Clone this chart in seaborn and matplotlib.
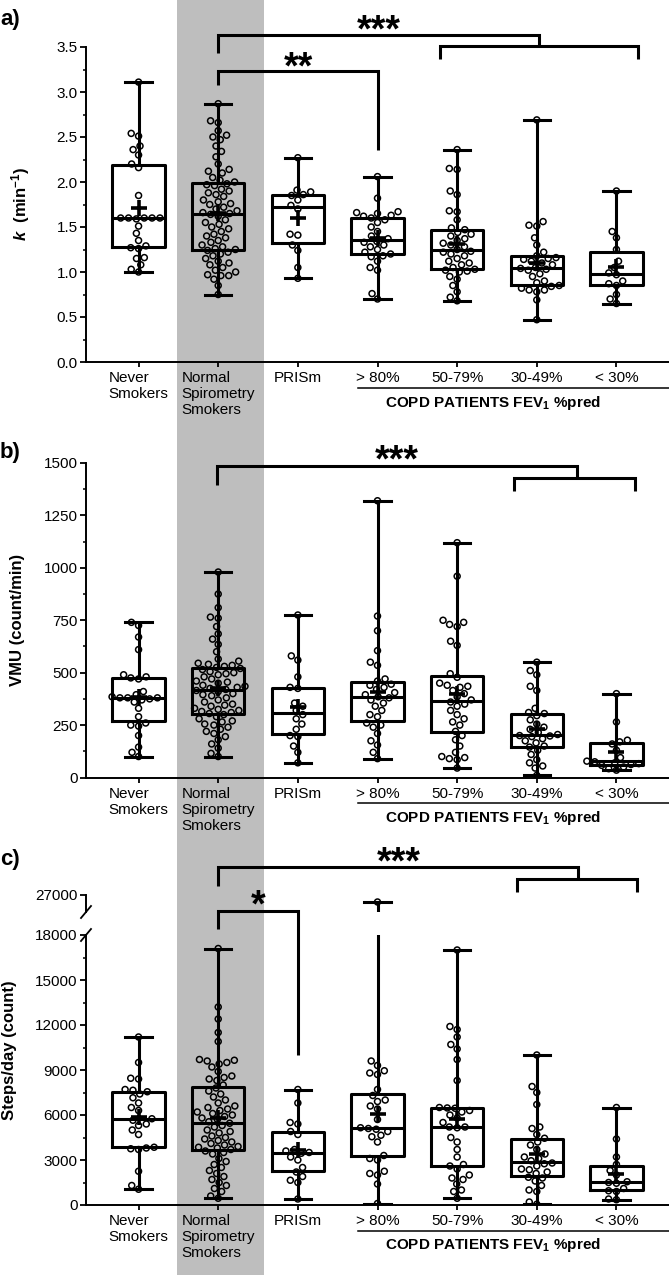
import numpy as np
import pandas as pd
import matplotlib
matplotlib.use("Agg")
import matplotlib.pyplot as plt
import seaborn as sns
from matplotlib.transforms import blended_transform_factory as btf
from matplotlib.patches import Rectangle
from matplotlib.lines import Line2D
from matplotlib.ticker import MultipleLocator, FormatStrFormatter, FixedLocator

plt.rcParams['font.family'] = ['Liberation Sans', 'DejaVu Sans']
plt.rcParams['mathtext.fontset'] = 'custom'
plt.rcParams['mathtext.rm'] = 'Liberation Sans:bold'
plt.rcParams['mathtext.bf'] = 'Liberation Sans:bold'
plt.rcParams['mathtext.it'] = 'Liberation Sans:bold:italic'

groups = ["Never", "Normal", "PRISm", ">80", "50-79", "30-49", "<30"]
tick_labels = ["Never\nSmokers", "Normal\nSpirometry\nSmokers", "PRISm",
               "> 80%", "50-79%", "30-49%", "< 30%"]

# ---------- panel a: k (min-1) ----------
k_never = [3.11, 2.54, 2.51, 2.40, 2.36, 2.30, 2.20, 2.16, 1.85, 1.60, 1.60, 1.60, 1.60,
           1.60, 1.59, 1.51, 1.43, 1.35, 1.29, 1.27, 1.26, 1.16, 1.15, 1.08, 1.03, 1.00]
k_normal = [2.87, 2.68, 2.66, 2.57, 2.52, 2.50, 2.47, 2.40, 2.34, 2.28, 2.20, 2.14, 2.12, 2.10,
            2.05, 2.02, 2.00,
            1.98, 1.97, 1.96, 1.92, 1.90, 1.88, 1.86, 1.84, 1.80, 1.78, 1.76, 1.75, 1.72, 1.70,
            1.68, 1.66, 1.65,
            1.64, 1.62, 1.58, 1.55, 1.53, 1.50, 1.48, 1.45, 1.42, 1.40, 1.38, 1.35, 1.33, 1.30,
            1.28, 1.26, 1.25,
            1.24, 1.22, 1.20, 1.18, 1.15, 1.12, 1.10, 1.08, 1.05, 1.02, 1.00, 0.97, 0.96, 0.96,
            0.92, 0.85, 0.75]
k_prism = [2.27, 1.91, 1.89, 1.86, 1.85, 1.80, 1.74, 1.70, 1.42, 1.41, 1.30, 1.24, 1.05, 0.93]
k_gt80 = [2.06, 1.82, 1.67, 1.66, 1.65, 1.63, 1.62, 1.60, 1.58, 1.55, 1.50, 1.45, 1.40, 1.37,
          1.34, 1.33, 1.30, 1.28, 1.25, 1.22, 1.20, 1.18, 1.17, 1.12, 1.05, 1.02, 0.76, 0.70]
k_50 = [2.36, 2.15, 2.14, 1.90, 1.86, 1.68, 1.67, 1.58, 1.49, 1.47, 1.44, 1.42, 1.40, 1.37,
        1.35, 1.32, 1.30, 1.28, 1.25, 1.23, 1.22, 1.20, 1.18, 1.15, 1.12, 1.10, 1.08, 1.05,
        1.03, 1.02, 1.01, 1.00, 0.95, 0.92, 0.85, 0.78, 0.72, 0.68]
k_30 = [2.69, 1.56, 1.52, 1.51, 1.38, 1.30, 1.22, 1.18, 1.16, 1.15, 1.14, 1.12, 1.10, 1.08,
        1.05, 1.04, 1.03, 1.02, 0.98, 0.95, 0.90, 0.88, 0.85, 0.84, 0.82, 0.80, 0.80, 0.78,
        0.69, 0.47]
k_lt30 = [1.90, 1.45, 1.38, 1.25, 1.12, 1.05, 0.99, 0.97, 0.90, 0.87, 0.85, 0.75, 0.70, 0.65]

# ---------- panel b: VMU (count/min) ----------
v_never = [740, 725, 670, 610, 490, 480, 475, 470, 410, 395, 385, 380, 380, 380, 375, 370,
           360, 330, 290, 260, 250, 245, 200, 145, 120, 100]
v_normal = [980, 875, 810, 765, 760, 720, 685, 660, 635, 600, 565, 555, 545, 540, 535, 530,
            525, 520, 515, 505, 500, 495, 490, 480, 470, 460, 455, 450, 440, 435, 430, 425, 420,
            415, 410, 400, 395, 390, 380, 370, 360, 350, 345, 340, 330, 325, 320, 315, 310, 305,
            300, 290, 280, 270, 265, 255, 250, 240, 230, 220, 210, 195, 180, 160, 140, 115, 100]
v_prism = [775, 580, 560, 480, 430, 425, 355, 340, 320, 300, 280, 255, 230, 200, 195, 150, 120, 70]
v_gt80 = [1320, 770, 700, 605, 550, 535, 470, 460, 445, 440, 430, 420, 405, 395, 385, 380, 370,
          355, 340, 320, 300, 290, 260, 250, 240, 210, 175, 155, 120, 90]
v_50 = [1120, 960, 750, 740, 730, 720, 650, 630, 495, 478, 450, 440, 435, 430, 415, 400, 385,
        370, 360, 350, 340, 320, 300, 280, 265, 250, 220, 200, 180, 150, 120, 100, 95, 90, 85, 45]
v_30 = [550, 510, 490, 435, 415, 330, 310, 305, 295, 275, 255, 240, 230, 215, 205, 200, 198,
        195, 185, 175, 165, 150, 145, 130, 110, 85, 70, 55, 45, 10]
v_lt30 = [400, 265, 178, 170, 160, 130, 95, 78, 75, 70, 66, 62, 58, 50, 42, 35]

# ---------- panel c: Steps/day (count) ----------
s_never = [11200, 9500, 8450, 8400, 7700, 7650, 7550, 7400, 7150, 6800, 6500, 6300, 5750, 5650,
           5400, 5300, 5000, 4700, 3850, 3800, 3750, 3700, 2250, 1300, 1050]
s_normal = [17100, 13200, 12400, 11500, 10900, 9700, 9650, 9600, 9500, 9400, 9200, 8900, 8600,
            8500, 8400, 8300, 8000,
            7800, 7600, 7400, 7200, 7000, 6800, 6600, 6500, 6400, 6300, 6200, 6100, 6000, 5900,
            5800, 5700, 5550,
            5450, 5300, 5200, 5000, 4900, 4800, 4600, 4500, 4400, 4300, 4200, 4100, 4000, 3900,
            3850, 3800, 3700,
            3600, 3500, 3400, 3100, 2900, 2700, 2500, 2300, 2100, 1900, 1700, 1500, 1300, 1100,
            900, 600, 450]
s_prism = [7700, 6800, 5500, 5400, 4900, 4700, 3700, 3600, 3500, 3450, 3200, 3000, 2500, 2200,
           1900, 1650, 1500, 400]
s_gt80 = [26000, 9600, 9300, 8950, 8800, 8700, 7700, 7300, 7000, 6900, 6600, 6400, 5700, 5150,
          5100, 5050, 4900, 4650, 4550, 4200, 3300, 3100, 3000, 2250, 2100, 2000, 1400, 100]
s_50 = [17000, 11900, 11700, 11200, 10700, 10400, 9700, 8300, 6500, 6470, 6450, 6300, 6200, 6000,
        5800, 5500, 5200, 5200, 5150, 4500, 4200, 3700, 3200, 2700, 2600, 2400, 2000, 1800, 1700,
        1400, 1000, 900, 450]
s_30 = [10000, 7900, 7500, 6700, 5200, 5100, 4700, 4450, 4200, 4000, 3700, 3400, 3200, 3100,
        2950, 2800, 2750, 2600, 2400, 2350, 2200, 2100, 1850, 1800, 1600, 1300, 1000, 900, 200, 50]
s_lt30 = [6500, 4400, 3200, 2700, 2300, 2000, 1550, 1500, 1450, 1100, 950, 900, 400, 350]

W, H = 669, 1275
fig = plt.figure(figsize=(W / 100, H / 100), dpi=100)
fig.patch.set_facecolor('white')


def fy(px):
    return 1 - px / H


def rect(top_px, bottom_px):
    return [86 / W, 1 - bottom_px / H, 1 - 86 / W, (bottom_px - top_px) / H]


# grey band behind the normal spirometry smokers column
fig.add_artist(Rectangle((177 / W, 0), (264 - 177) / W, 1, transform=fig.transFigure,
                         facecolor='#bebebe', edgecolor='none', zorder=-10))


def draw(ax, lists, ylim):
    df = pd.DataFrame({'group': np.repeat(groups, [len(d) for d in lists]),
                       'value': np.concatenate([np.asarray(d, float) for d in lists])})
    sns.boxplot(data=df, x='group', y='value', order=groups, whis=(0, 100), width=0.66,
                fill=False, color='black', linewidth=2.2, showfliers=False, showmeans=True,
                meanprops=dict(marker='+', markeredgecolor='black', markerfacecolor='black',
                               markersize=12, markeredgewidth=2.6),
                ax=ax)
    sns.swarmplot(data=df, x='group', y='value', order=groups, size=4.3, color='black',
                  ax=ax, zorder=3)
    for c in ax.collections:
        c.set_facecolor('none')
        c.set_edgecolor('black')
        c.set_linewidth(1.1)
    ax.set_xlim(-0.66, 6.66)
    ax.set_ylim(*ylim)
    ax.set_facecolor('none')
    ax.set_xlabel('')
    ax.set_ylabel('')
    for s in ['top', 'right']:
        ax.spines[s].set_visible(False)
    for s in ['left', 'bottom']:
        ax.spines[s].set_linewidth(1.4)
    ax.tick_params(axis='y', which='major', direction='out', length=4, width=1.3,
                   labelsize=11, pad=2)
    ax.tick_params(axis='y', which='minor', direction='out', length=2.2, width=1.1)
    ax.tick_params(axis='x', direction='out', length=3.5, width=1.3, labelsize=11, pad=3)


def xlabels(ax):
    ax.set_xticks(range(len(groups)))
    ax.set_xticklabels(tick_labels)
    for t in ax.get_xticklabels():
        t.set_multialignment('left')


def bracket(ax, pts):
    xs = [p[0] for p in pts]
    ys = [fy(p[1]) for p in pts]
    ax.plot(xs, ys, transform=btf(ax.transData, fig.transFigure), color='black', lw=2.2,
            clip_on=False, solid_capstyle='butt', solid_joinstyle='miter')


def stars(ax, x, px_center, s):
    ax.text(x, fy(px_center + 11), s, transform=btf(ax.transData, fig.transFigure),
            ha='center', va='center', fontsize=27, fontweight='bold')


def copd(ax, line_px, text_px):
    ax.plot([2.75, 6.66], [fy(line_px)] * 2, transform=btf(ax.transData, fig.transFigure),
            color='black', lw=1.1, clip_on=False)
    ax.text(4.45, fy(text_px), 'COPD PATIENTS FEV$_1$ %pred',
            transform=btf(ax.transData, fig.transFigure), ha='center', va='center',
            fontsize=11, fontweight='bold')


# ---------- panel a ----------
axA = fig.add_axes(rect(47, 362))
draw(axA, [k_never, k_normal, k_prism, k_gt80, k_50, k_30, k_lt30], (0, 3.5))
axA.yaxis.set_major_locator(MultipleLocator(0.5))
axA.yaxis.set_minor_locator(MultipleLocator(0.25))
axA.yaxis.set_major_formatter(FormatStrFormatter('%.1f'))
xlabels(axA)
bracket(axA, [(1.0, 53), (1.0, 35), (5.03, 35), (5.03, 46)])
bracket(axA, [(3.79, 59), (3.79, 46), (6.27, 46), (6.27, 59)])
bracket(axA, [(1.0, 85), (1.0, 71), (3.0, 71), (3.0, 150)])
stars(axA, 3.02, 20, '***')
stars(axA, 2.01, 57, '**')
copd(axA, 388, 403)

# ---------- panel b ----------
axB = fig.add_axes(rect(463, 777.5))
draw(axB, [v_never, v_normal, v_prism, v_gt80, v_50, v_30, v_lt30], (0, 1500))
axB.yaxis.set_major_locator(MultipleLocator(250))
axB.yaxis.set_minor_locator(MultipleLocator(125))
xlabels(axB)
bracket(axB, [(0.99, 485), (0.99, 466), (5.50, 466), (5.50, 478)])
bracket(axB, [(4.72, 491), (4.72, 478), (6.23, 478), (6.23, 491)])
stars(axB, 3.24, 450, '***')
copd(axB, 803, 818)

# ---------- panel c (broken axis) ----------
s_lists = [s_never, s_normal, s_prism, s_gt80, s_50, s_30, s_lt30]
axCt = fig.add_axes(rect(895, 912))
draw(axCt, s_lists, (24570, 27000))
axCt.spines['bottom'].set_visible(False)
axCt.set_xticks([])
axCt.yaxis.set_major_locator(FixedLocator([27000]))

axCb = fig.add_axes(rect(935, 1205))
draw(axCb, s_lists, (0, 18000))
axCb.yaxis.set_major_locator(MultipleLocator(3000))
axCb.yaxis.set_minor_locator(MultipleLocator(1500))
xlabels(axCb)
bracket(axCb, [(1.0, 886), (1.0, 867), (5.52, 867), (5.52, 879)])
bracket(axCb, [(4.75, 892), (4.75, 879), (6.26, 879), (6.26, 892)])
bracket(axCb, [(1.0, 929), (1.0, 911), (2.0, 911), (2.0, 1055)])
stars(axCb, 3.27, 852, '***')
stars(axCb, 1.5, 895, '*')
copd(axCb, 1231, 1245)

# break marks
for (x0, y0, x1, y1) in [(81, 918, 91, 906), (81, 941, 91, 929)]:
    fig.add_artist(Line2D([x0 / W, x1 / W], [fy(y0), fy(y1)], transform=fig.transFigure,
                          color='black', lw=1.3))

# y labels and panel letters
fig.text(21 / W, fy(204), r'$k$  (min$^{-1}$)', rotation=90, ha='center', va='center',
         fontsize=12, fontweight='bold')
fig.text(18 / W, fy(620), 'VMU (count/min)', rotation=90, ha='center', va='center',
         fontsize=12, fontweight='bold')
fig.text(10 / W, fy(1050), 'Steps/day (count)', rotation=90, ha='center', va='center',
         fontsize=12, fontweight='bold')
fig.text(0.0, fy(20), 'a)', ha='left', va='center', fontsize=16, fontweight='bold')
fig.text(0.0, fy(453), 'b)', ha='left', va='center', fontsize=16, fontweight='bold')
fig.text(0.0, fy(860), 'c)', ha='left', va='center', fontsize=16, fontweight='bold')

fig.savefig('out.png', dpi=100)
